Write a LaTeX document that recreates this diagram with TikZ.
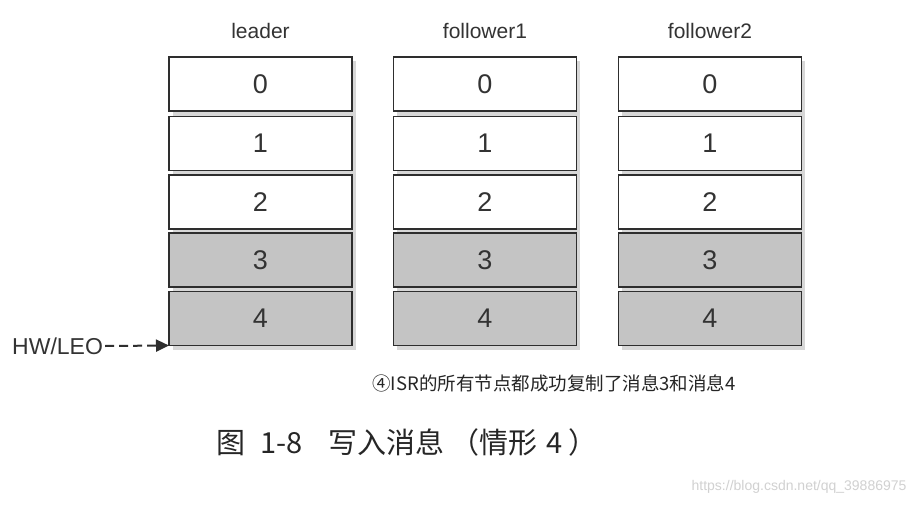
\documentclass[tikz,border=0pt]{standalone}
\usepackage{fontspec}
\setmainfont{Liberation Sans}
\newfontfamily\cjk{Noto Sans CJK SC}
\usetikzlibrary{arrows.meta}
\definecolor{boxline}{HTML}{2E2E2E}
\definecolor{boxgray}{HTML}{C4C4C4}
\definecolor{shadowgray}{HTML}{BDBDBD}
\begin{document}
\begin{tikzpicture}[x=1pt,y=-1pt,
  cell/.style={draw=boxline, line width=1.6pt, minimum width=183pt, minimum height=54pt,
    inner sep=0pt, outer sep=0pt, font=\fontsize{27}{27}\selectfont, text=black!80,
    fill=white},
  oldcell/.style={cell, fill=boxgray},
  head/.style={font=\fontsize{21}{21}\selectfont, text=black!80}
]
\useasboundingbox (0,0) rectangle (922,506);
\fill[white] (0,0) rectangle (922,506);

\foreach \cx/\nm/\lab in {260.5/l/leader, 485/fa/follower1, 710/fb/follower2}{
  \node[head] (h\nm) at (\cx,31) {\lab};
  \fill[shadowgray,opacity=0.6] (\cx-88,61) rectangle (\cx+95,350);
  \node[cell] (\nm0) at (\cx,84) {0};
  \node[cell] (\nm1) at (\cx,143.5) {1};
  \node[cell] (\nm2) at (\cx,202) {2};
  \node[oldcell] (\nm3) at (\cx,260) {3};
  \node[oldcell] (\nm4) at (\cx,318.5) {4};
}

\node[font=\fontsize{23}{23}\selectfont, text=black!80, anchor=west, inner sep=0pt] (hw) at (12,346) {HW/LEO};
\draw[boxline, line width=2pt, dash pattern=on 9pt off 5pt,
  -{Triangle[length=13pt,width=12pt]}] ([xshift=2pt]hw.east) -- (l4.south west);

\node[font=\cjk\fontsize{18.5}{18.5}\selectfont, text=black!85] (cap) at (554,383) {④ISR的所有节点都成功复制了消息3和消息4};

\node[font=\cjk\fontsize{29}{29}\selectfont, text=black!85] (fig) at (407,442) {图\hspace{0.5em}1-8\hspace{0.9em}写入消息\hspace{0.2em}（情形\hspace{0.3em}4\hspace{0.2em}）};

\node[font=\fontsize{14}{14}\selectfont, text=black!18, anchor=east] (wm) at (910,487) {https://blog.csdn.net/qq\_39886975};
\end{tikzpicture}
\end{document}
